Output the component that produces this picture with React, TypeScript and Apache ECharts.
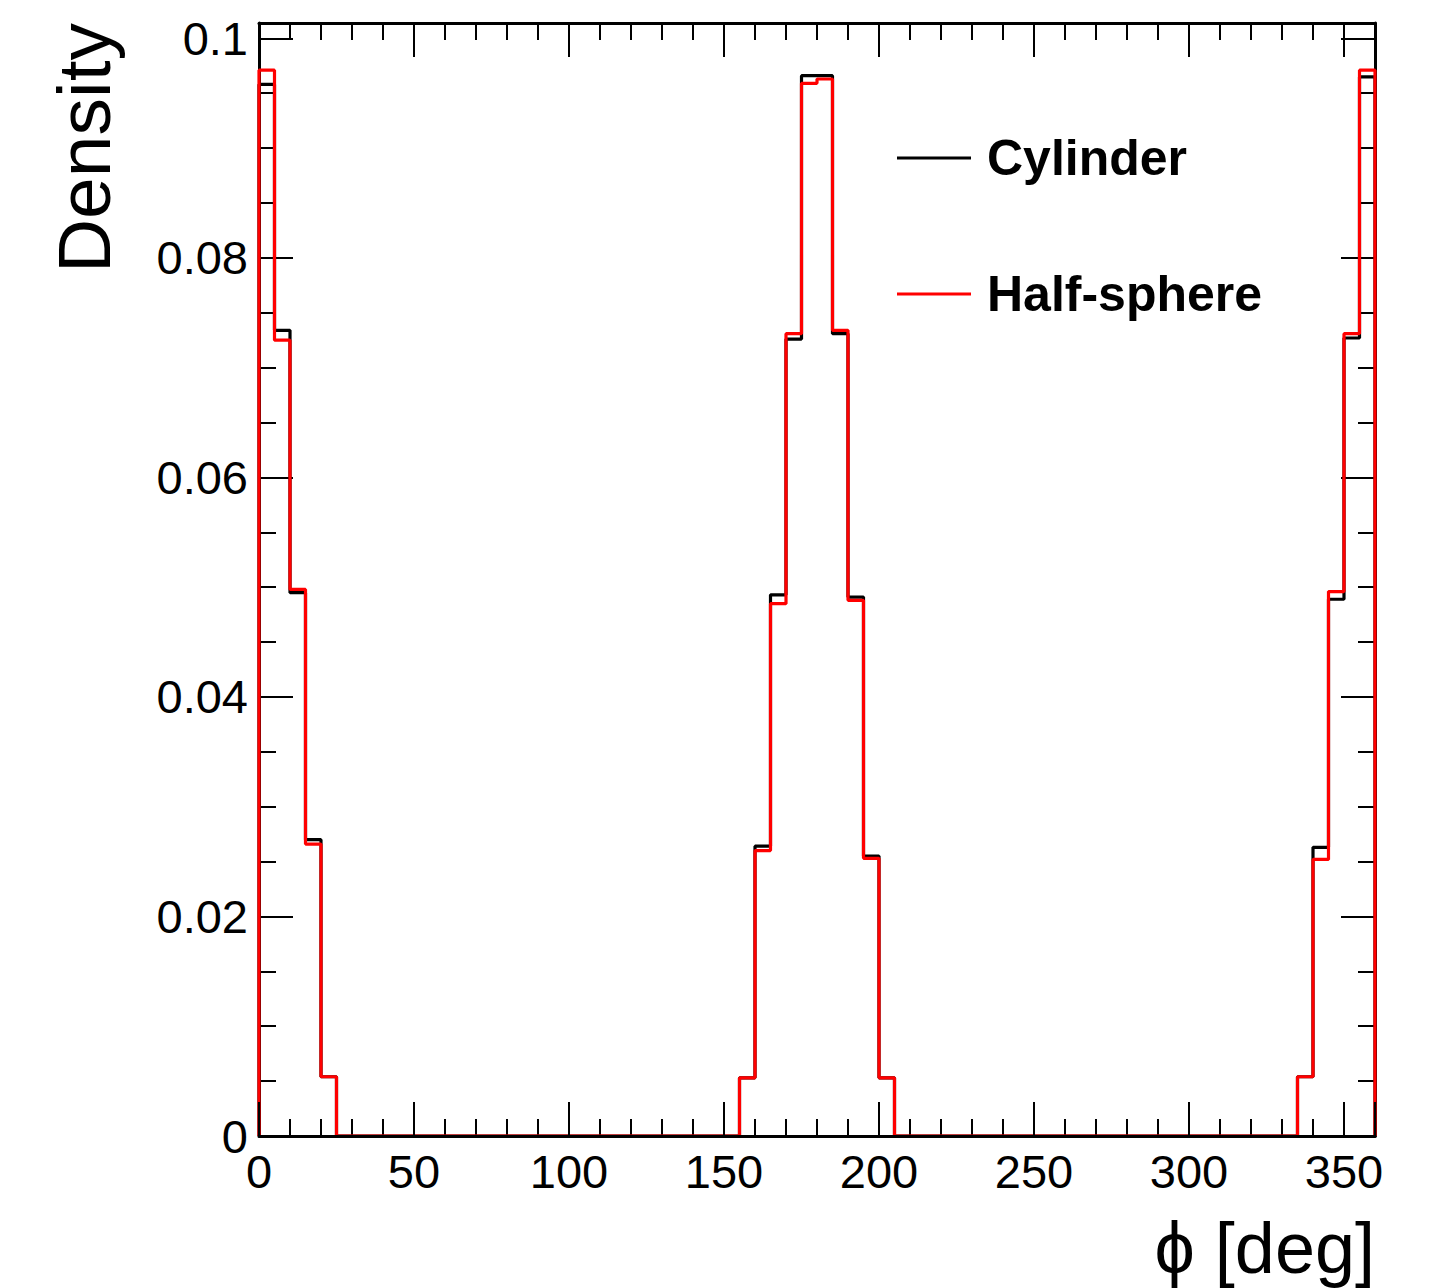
import React, { useEffect, useRef } from "react";
import * as echarts from "echarts";

// Bin edges of phi [deg] (5 degree bins)
const binEdges = [
  0, 5, 10, 15, 20, 25, 30, 35, 40, 45, 50, 55,
  60, 65, 70, 75, 80, 85, 90, 95, 100, 105, 110, 115,
  120, 125, 130, 135, 140, 145, 150, 155, 160, 165, 170, 175,
  180, 185, 190, 195, 200, 205, 210, 215, 220, 225, 230, 235,
  240, 245, 250, 255, 260, 265, 270, 275, 280, 285, 290, 295,
  300, 305, 310, 315, 320, 325, 330, 335, 340, 345, 350, 355,
  360,
];

const cylinder = [
  0.0958, 0.0734, 0.0495, 0.027, 0.0054, 0, 0, 0, 0, 0, 0, 0,
  0, 0, 0, 0, 0, 0, 0, 0, 0, 0, 0, 0,
  0, 0, 0, 0, 0, 0, 0, 0.0053, 0.0264, 0.0493, 0.0726, 0.0966,
  0.0966, 0.0731, 0.0491, 0.0255, 0.0053, 0, 0, 0, 0, 0, 0, 0,
  0, 0, 0, 0, 0, 0, 0, 0, 0, 0, 0, 0,
  0, 0, 0, 0, 0, 0, 0, 0.0054, 0.0263, 0.0489, 0.0727, 0.0965,
];

const halfSphere = [
  0.0971, 0.0725, 0.0498, 0.0266, 0.0054, 0, 0, 0, 0, 0, 0, 0,
  0, 0, 0, 0, 0, 0, 0, 0, 0, 0, 0, 0,
  0, 0, 0, 0, 0, 0, 0, 0.0053, 0.026, 0.0485, 0.0731, 0.0959,
  0.0963, 0.0734, 0.0488, 0.0253, 0.0053, 0, 0, 0, 0, 0, 0, 0,
  0, 0, 0, 0, 0, 0, 0, 0, 0, 0, 0, 0,
  0, 0, 0, 0, 0, 0, 0, 0.0054, 0.0252, 0.0496, 0.0731, 0.0971,
];

const xTickLabels = ["0", "50", "100", "150", "200", "250", "300", "350"];
const yTickLabels = ["0", "0.02", "0.04", "0.06", "0.08", "0.1"];

const FONT = '"Liberation Sans", Arial, Helvetica, sans-serif';

function stepData(values: number[]) {
  const pts: number[][] = [[binEdges[0], 0]];
  values.forEach((v, i) => pts.push([binEdges[i], v]));
  const last = binEdges[binEdges.length - 1];
  pts.push([last, values[values.length - 1]]);
  pts.push([last, 0]);
  return pts;
}

export default function App() {
  const ref = useRef<HTMLDivElement>(null);
  useEffect(() => {
    if (!ref.current) return;
    const chart = echarts.init(ref.current, null, { renderer: "svg" });
    const X_MAX = 360;
    const Y_MAX = 0.1014;
    const baseX = {
      type: "value" as const,
      min: 0,
      max: X_MAX,
      splitLine: { show: false },
      axisLabel: { show: false },
    };
    const baseY = {
      type: "value" as const,
      min: 0,
      max: Y_MAX,
      splitLine: { show: false },
      axisLabel: { show: false },
    };
    const lineStyle = { color: "#000", width: 3 };
    const axisLineOn = { show: true, onZero: false, lineStyle };
    const axisLineOff = { show: false, onZero: false };
    const tickMajor = { show: true, inside: true, length: 34, lineStyle: { color: "#000", width: 2 } };
    const tickMinor = { show: true, inside: true, length: 17, lineStyle: { color: "#000", width: 2 } };

    chart.setOption({
      animation: false,
      backgroundColor: "#fff",
      grid: { left: 259, top: 23, right: 60, bottom: 152, containLabel: false },
      xAxis: [
        {
          ...baseX,
          position: "bottom",
          interval: 50,
          axisLine: axisLineOn,
          axisTick: tickMajor,
          z: 3,
          axisLabel: {
            show: true,
            margin: 12,
            fontFamily: FONT,
            fontSize: 47,
            color: "#000",
            formatter: (v: number) => {
              const i = Math.round(v / 50);
              return Math.abs(v - i * 50) < 1e-6 && i < xTickLabels.length ? xTickLabels[i] : "";
            },
          },
        },
        { ...baseX, position: "bottom", interval: 10, axisLine: axisLineOff, axisTick: tickMinor },
        { ...baseX, position: "top", interval: 50, axisLine: axisLineOn, axisTick: tickMajor },
        { ...baseX, position: "top", interval: 10, axisLine: axisLineOff, axisTick: tickMinor },
      ],
      yAxis: [
        {
          ...baseY,
          position: "left",
          interval: 0.02,
          axisLine: axisLineOn,
          axisTick: tickMajor,
          axisLabel: {
            show: true,
            margin: 11,
            fontFamily: FONT,
            fontSize: 47,
            color: "#000",
            formatter: (v: number) => {
              const i = Math.round(v / 0.02);
              return Math.abs(v - i * 0.02) < 1e-7 && i < yTickLabels.length ? yTickLabels[i] : "";
            },
          },
        },
        { ...baseY, position: "left", interval: 0.005, axisLine: axisLineOff, axisTick: tickMinor },
        { ...baseY, position: "right", interval: 0.02, axisLine: axisLineOn, axisTick: tickMajor },
        { ...baseY, position: "right", interval: 0.005, axisLine: axisLineOff, axisTick: tickMinor },
      ],
      legend: {
        orient: "vertical",
        left: 897,
        top: 133,
        padding: 0,
        itemWidth: 74,
        itemHeight: 3,
        itemGap: 86,
        icon: "rect",
        data: ["Cylinder", "Half-sphere"],
        textStyle: {
          fontFamily: FONT,
          fontWeight: "bold",
          fontSize: 50,
          lineHeight: 50,
          color: "#000",
          padding: [0, 0, 0, 11],
        },
      },
      series: [
        {
          name: "Cylinder",
          type: "line",
          step: "end",
          xAxisIndex: 0,
          yAxisIndex: 0,
          symbol: "none",
          color: "#000",
          itemStyle: { color: "#000" },
          lineStyle: { color: "#000", width: 3.2 },
          data: stepData(cylinder),
          z: 2,
        },
        {
          name: "Half-sphere",
          type: "line",
          step: "end",
          xAxisIndex: 0,
          yAxisIndex: 0,
          symbol: "none",
          color: "#ff0000",
          itemStyle: { color: "#ff0000" },
          lineStyle: { color: "#ff0000", width: 3.2 },
          data: stepData(halfSphere),
          z: 2,
        },
      ],
      graphic: [
        {
          type: "text",
          x: 84,
          y: 23,
          rotation: Math.PI / 2,
          style: {
            text: "Density",
            fontFamily: FONT,
            fontSize: 75,
            fill: "#000",
            align: "right",
            verticalAlign: "middle",
          },
        },
        {
          type: "text",
          x: 1375,
          y: 1248,
          style: {
            text: "ϕ [deg]",
            fontFamily: FONT,
            fontSize: 72,
            fill: "#000",
            align: "right",
            verticalAlign: "middle",
          },
        },
      ],
    });
    return () => chart.dispose();
  }, []);
  return (
    <div
      ref={ref}
      style={{ position: "fixed", left: 0, top: 0, width: 1435, height: 1288, background: "#fff" }}
    />
  );
}
